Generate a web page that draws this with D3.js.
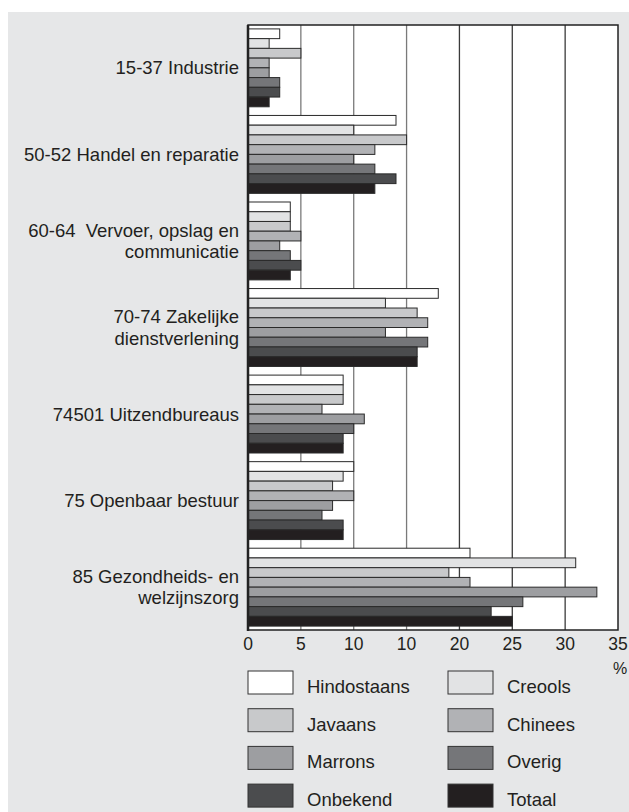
<!DOCTYPE html>
<html>
<head>
<meta charset="utf-8">
<script src="https://cdn.jsdelivr.net/npm/d3@7"></script>
<style>
  html, body { margin: 0; padding: 0; background: #fff; }
  svg { display: block; font-family: "Liberation Sans", Arial, sans-serif; }
</style>
</head>
<body>
<svg id="chart"></svg>
<script>
// categories (each label split in lines)
const categories = [
  ['15-37 Industrie'],
  ['50-52 Handel en reparatie'],
  ['60-64  Vervoer, opslag en', 'communicatie'],
  ['70-74 Zakelijke', 'dienstverlening'],
  ['74501 Uitzendbureaus'],
  ['75 Openbaar bestuur'],
  ['85 Gezondheids- en', 'welzijnszorg']
];

const seriesNames = ['Hindostaans', 'Creools', 'Javaans', 'Chinees', 'Marrons', 'Overig', 'Onbekend', 'Totaal'];
const seriesColors = ['#ffffff', '#e2e3e4', '#c8c9cb', '#b1b2b5', '#9d9ea1', '#757679', '#4b4c4e', '#231f20'];

// percentages per series, one value per category
const hindostaans = [3, 14, 4, 18, 9, 10, 21];
const creools     = [2, 10, 4, 13, 9, 9, 31];
const javaans     = [5, 15, 4, 16, 9, 8, 19];
const chinees     = [2, 12, 5, 17, 7, 10, 21];
const marrons     = [2, 10, 3, 13, 11, 8, 33];
const overig      = [3, 12, 4, 17, 10, 7, 26];
const onbekend    = [3, 14, 5, 16, 9, 9, 23];
const totaal      = [2, 12, 4, 16, 9, 9, 25];

const tickValues = [0, 5, 10, 15, 20, 25, 30, 35];
const tickLabels = ['0', '5', '10', '10', '20', '25', '30', '35'];

const allSeries = [hindostaans, creools, javaans, chinees, marrons, overig, onbekend, totaal];

const W = 629, H = 812;
const svg = d3.select('#chart').attr('width', W).attr('height', H);

// grey panel
svg.append('rect')
  .attr('x', 8).attr('y', 12)
  .attr('width', W - 8).attr('height', H - 12)
  .attr('fill', '#e6e7e8');

const plot = { left: 248, right: 618, top: 25, bottom: 630 };

const x = d3.scaleLinear().domain([0, 35]).range([plot.left, plot.right]);
const y = d3.scaleBand()
  .domain(d3.range(categories.length))
  .range([plot.top, plot.bottom])
  .paddingInner(0.1)
  .paddingOuter(0.045);
const ySub = d3.scaleBand()
  .domain(d3.range(seriesNames.length))
  .range([0, y.bandwidth()]);

// plot background
svg.append('rect')
  .attr('x', plot.left).attr('y', plot.top)
  .attr('width', plot.right - plot.left).attr('height', plot.bottom - plot.top)
  .attr('fill', '#fff');

// vertical grid
svg.append('g')
  .selectAll('line')
  .data(tickValues.slice(1, -1))
  .join('line')
    .attr('x1', d => x(d)).attr('x2', d => x(d))
    .attr('y1', plot.top).attr('y2', plot.bottom)
    .attr('stroke', (d, i) => i < 3 ? '#7a7a7a' : '#3a3a3a')
    .attr('stroke-width', 1.3);

// bars
const groups = svg.append('g')
  .selectAll('g')
  .data(categories)
  .join('g')
    .attr('transform', (d, i) => `translate(0,${y(i)})`);

groups.selectAll('rect')
  .data((d, ci) => allSeries.map((s, si) => ({ si, v: s[ci] })))
  .join('rect')
    .attr('x', x(0))
    .attr('y', d => ySub(d.si))
    .attr('width', d => x(d.v) - x(0))
    .attr('height', ySub.bandwidth())
    .attr('fill', d => seriesColors[d.si])
    .attr('stroke', '#2a2a2a')
    .attr('stroke-width', 1);

// frame
svg.append('rect')
  .attr('x', plot.left).attr('y', plot.top)
  .attr('width', plot.right - plot.left).attr('height', plot.bottom - plot.top)
  .attr('fill', 'none')
  .attr('stroke', '#222')
  .attr('stroke-width', 1.5);
svg.append('line')
  .attr('x1', plot.left).attr('x2', plot.left)
  .attr('y1', plot.top).attr('y2', plot.bottom + 1)
  .attr('stroke', '#222').attr('stroke-width', 2.5);

// x axis labels
svg.append('g')
  .selectAll('text')
  .data(tickValues)
  .join('text')
    .attr('x', d => x(d))
    .attr('y', 650)
    .attr('text-anchor', 'middle')
    .attr('fill', '#231f20')
    .style('font-size', '17.5px')
    .text((d, i) => tickLabels[i]);

svg.append('text')
  .attr('x', 620).attr('y', 674)
  .attr('text-anchor', 'middle')
  .attr('fill', '#231f20')
  .style('font-size', '16px')
  .text('%');

// category labels
const labels = svg.append('g')
  .selectAll('text')
  .data(categories)
  .join('text')
    .attr('text-anchor', 'end')
    .attr('fill', '#231f20')
    .style('font-size', '18.5px')
    .style('white-space', 'pre');

labels.each(function(lines, i) {
  const cy = y(i) + y.bandwidth() / 2;
  const lh = 21.7;
  const y0 = cy - (lines.length - 1) * lh / 2;
  d3.select(this).selectAll('tspan')
    .data(lines)
    .join('tspan')
      .attr('x', 239)
      .attr('y', (d, j) => y0 + j * lh)
      .attr('dy', '0.35em')
      .text(d => d);
});

// legend
const legend = svg.append('g')
  .selectAll('g')
  .data(seriesNames)
  .join('g')
    .attr('transform', (d, i) => `translate(${i % 2 === 0 ? 248 : 448},${671 + Math.floor(i / 2) * 37.7})`);

legend.append('rect')
  .attr('width', 45).attr('height', 23)
  .attr('fill', (d, i) => seriesColors[i])
  .attr('stroke', '#333')
  .attr('stroke-width', 1);

legend.append('text')
  .attr('x', 59).attr('y', 22)
  .attr('fill', '#231f20')
  .style('font-size', '18.5px')
  .text(d => d);
</script>
</body>
</html>
